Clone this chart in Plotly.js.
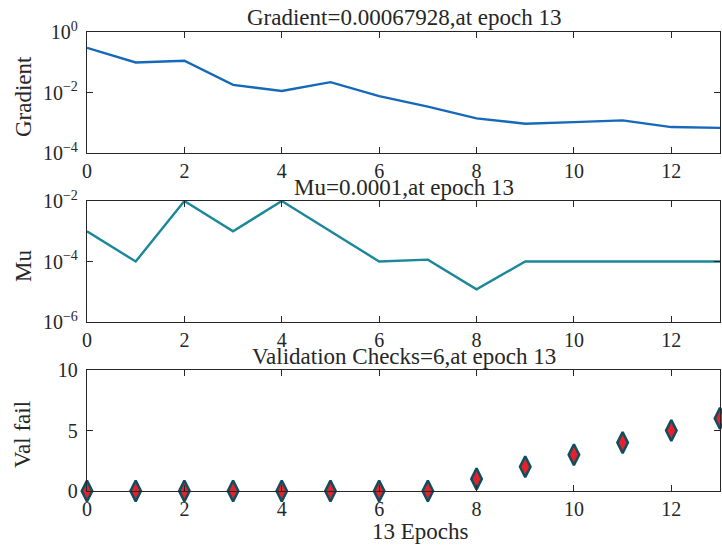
<!DOCTYPE html>
<html>
<head>
<meta charset="utf-8">
<script src="https://cdn.plot.ly/plotly-3.0.1.min.js"></script>
<style>html,body{margin:0;padding:0;background:#fff;}#chart{width:722px;height:546px;}</style>
</head>
<body>
<div id="chart"></div>
<script>
const epochs = [0,1,2,3,4,5,6,7,8,9,10,11,12,13];
const gradient = [0.30,0.098,0.112,0.0178,0.0112,0.022,0.0076,0.0034,0.0014,0.00093,0.00105,0.0012,0.00072,0.00067928];
const mu = [1e-3,1e-4,1e-2,1e-3,1e-2,1e-3,1e-4,1.15e-4,1.2e-5,1e-4,1e-4,1e-4,1e-4,1e-4];
const valFail = [0,0,0,0,0,0,0,0,1,2,3,4,5,6];
const titles = ["Gradient=0.00067928,at epoch 13","Mu=0.0001,at epoch 13","Validation Checks=6,at epoch 13"];
const yLabels = ["Gradient","Mu","Val fail"];
const xLabel = "13 Epochs";
const gradTickVals = [1e-4, 1e-2, 1];
const gradTickText = ["10<sup>−4</sup>","10<sup>−2</sup>","10<sup>0</sup>"];
const muTickVals = [1e-6, 1e-4, 1e-2];
const muTickText = ["10<sup>−6</sup>","10<sup>−4</sup>","10<sup>−2</sup>"];

const W = 722, H = 546;
const px = v => v / W;
const py = v => 1 - v / H;
const FAM = "Liberation Serif, Times New Roman, serif";
const TXT = "#262626";
const font = {family: FAM, size: 20, color: TXT};
const axCommon = {
  showgrid: false, zeroline: false, showline: true, linecolor: TXT, linewidth: 1.2,
  mirror: "ticks", ticks: "inside", ticklen: 6, tickcolor: TXT,
  tickfont: {family: FAM, size: 20, color: TXT}, fixedrange: true
};
const xdom = [px(87), px(720)];
const xax = Object.assign({}, axCommon, {range: [0, 13], dtick: 2, tick0: 0, domain: xdom, ticklabelstandoff: 0});

const traces = [
  {x: epochs, y: gradient, type: "scatter", mode: "lines", line: {color: "#1668b8", width: 2.4}, xaxis: "x", yaxis: "y", cliponaxis: true},
  {x: epochs, y: mu, type: "scatter", mode: "lines", line: {color: "#1b879a", width: 2.4}, xaxis: "x2", yaxis: "y2", cliponaxis: true},
  {x: epochs, y: valFail, type: "scatter", mode: "markers", marker: {symbol: "diamond-tall", size: 15, color: "#e8202a", line: {color: "#0d4f5f", width: 2.5}}, xaxis: "x3", yaxis: "y3", cliponaxis: false}
];

function ann(text, x, y, angle) {
  return {text: text, x: px(x), y: py(y), xref: "paper", yref: "paper", xanchor: "center", yanchor: "middle",
    showarrow: false, textangle: angle || 0, font: {family: FAM, size: 23, color: TXT}};
}

const layout = {
  width: W, height: H, margin: {l: 0, r: 0, t: 0, b: 0},
  paper_bgcolor: "#fff", plot_bgcolor: "#fff", showlegend: false, font: font,
  xaxis: Object.assign({}, xax, {anchor: "y"}),
  xaxis2: Object.assign({}, xax, {anchor: "y2"}),
  xaxis3: Object.assign({}, xax, {anchor: "y3"}),
  yaxis: Object.assign({}, axCommon, {type: "log", range: [-4, 0], tickmode: "array", tickvals: gradTickVals, ticktext: gradTickText, domain: [py(153), py(32)], anchor: "x", ticklabelstandoff: 4}),
  yaxis2: Object.assign({}, axCommon, {type: "log", range: [-6, -2], tickmode: "array", tickvals: muTickVals, ticktext: muTickText, domain: [py(322), py(201)], anchor: "x2", ticklabelstandoff: 4}),
  yaxis3: Object.assign({}, axCommon, {range: [0, 10], dtick: 5, domain: [py(491), py(370)], anchor: "x3", ticklabelstandoff: 4}),
  annotations: [
    ann(titles[0], 404, 17),
    ann(titles[1], 404, 187),
    ann(titles[2], 404, 356),
    ann(yLabels[0], 23, 97, -90),
    ann(yLabels[1], 23, 266, -90),
    ann(yLabels[2], 23, 435, -90),
    ann(xLabel, 420, 531)
  ]
};
Plotly.newPlot("chart", traces, layout, {displayModeBar: false, staticPlot: true});
</script>
</body>
</html>
